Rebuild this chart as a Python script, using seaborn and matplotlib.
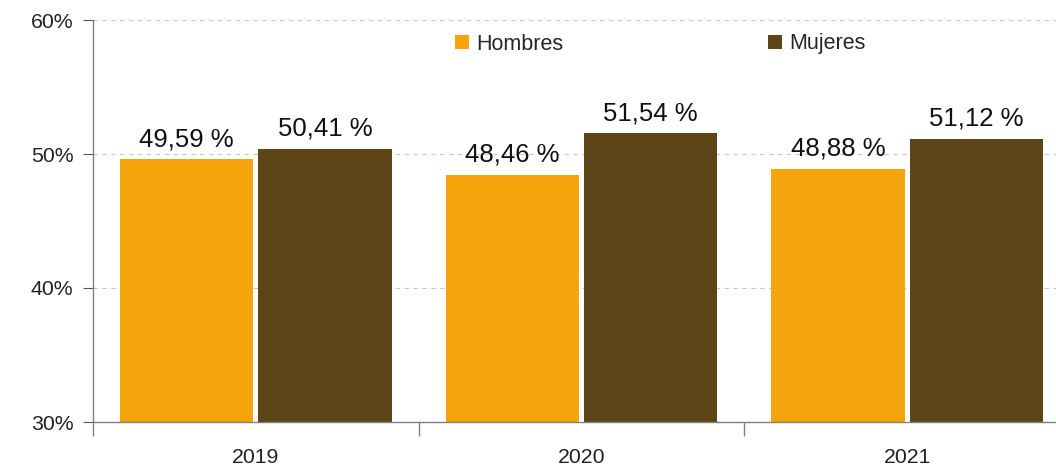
import matplotlib
matplotlib.use("Agg")
import matplotlib.pyplot as plt
import seaborn as sns
import pandas as pd
from matplotlib.ticker import FixedLocator, FuncFormatter

years = ["2019", "2020", "2021"]
hombres = [49.59, 48.46, 48.88]
mujeres = [50.41, 51.54, 51.12]
series_names = ["Hombres", "Mujeres"]
colors = ["#F5A40C", "#5C4516"]

df = pd.DataFrame({
    "year": years * 2,
    "value": hombres + mujeres,
    "sexo": [series_names[0]] * 3 + [series_names[1]] * 3,
})

sns.set_style("white")
plt.rcParams["font.family"] = ["Liberation Sans", "DejaVu Sans"]

fig = plt.figure(figsize=(10.56, 4.67), dpi=100)
ax = fig.add_axes([93 / 1056, 1 - 422 / 467, (1070 - 93) / 1056, (422 - 20) / 467])

sns.barplot(data=df, x="year", y="value", hue="sexo", palette=colors,
            width=0.85, gap=0.035, ax=ax, saturation=1, edgecolor="none")

ax.set_ylim(30, 60)
ax.set_xlim(-0.5, 2.5)
ax.set_yticks([30, 40, 50, 60])
ax.yaxis.set_major_formatter(FuncFormatter(lambda v, p: f"{int(v)}%"))
ax.set_xlabel("")
ax.set_ylabel("")

ax.grid(axis="y", linestyle=(0, (4, 4)), color="#c8c8c8", linewidth=0.8)
ax.set_axisbelow(True)

for s in ["top", "right"]:
    ax.spines[s].set_visible(False)
for s in ["left", "bottom"]:
    ax.spines[s].set_color("#808080")
    ax.spines[s].set_linewidth(1.0)

ax.tick_params(axis="y", which="major", length=7, color="#555555", labelsize=15.3,
               labelcolor="#222222", pad=7, left=True)
ax.tick_params(axis="x", which="major", length=0, labelsize=15.3, labelcolor="#222222", pad=19)
ax.xaxis.set_minor_locator(FixedLocator([-0.5, 0.5, 1.5, 2.5]))
ax.tick_params(axis="x", which="minor", length=10, color="#808080", width=1.0, bottom=True)

for cont in ax.containers:
    for bar in cont:
        h = bar.get_height()
        ax.annotate(f"{h:.2f} %".replace(".", ","),
                    (bar.get_x() + bar.get_width() / 2, h),
                    xytext=(0, 6), textcoords="offset points",
                    ha="center", va="bottom", fontsize=18.5, color="#111111")

ax.legend(loc="upper left", bbox_to_anchor=(455 / 1056, 1 - 33.5 / 467),
          bbox_transform=fig.transFigure, ncol=2, frameon=False,
          fontsize=15.5, handlelength=0.65, handleheight=0.65,
          handletextpad=0.33, columnspacing=9.5, borderpad=0, borderaxespad=0)

fig.savefig("out.png", dpi=100)
